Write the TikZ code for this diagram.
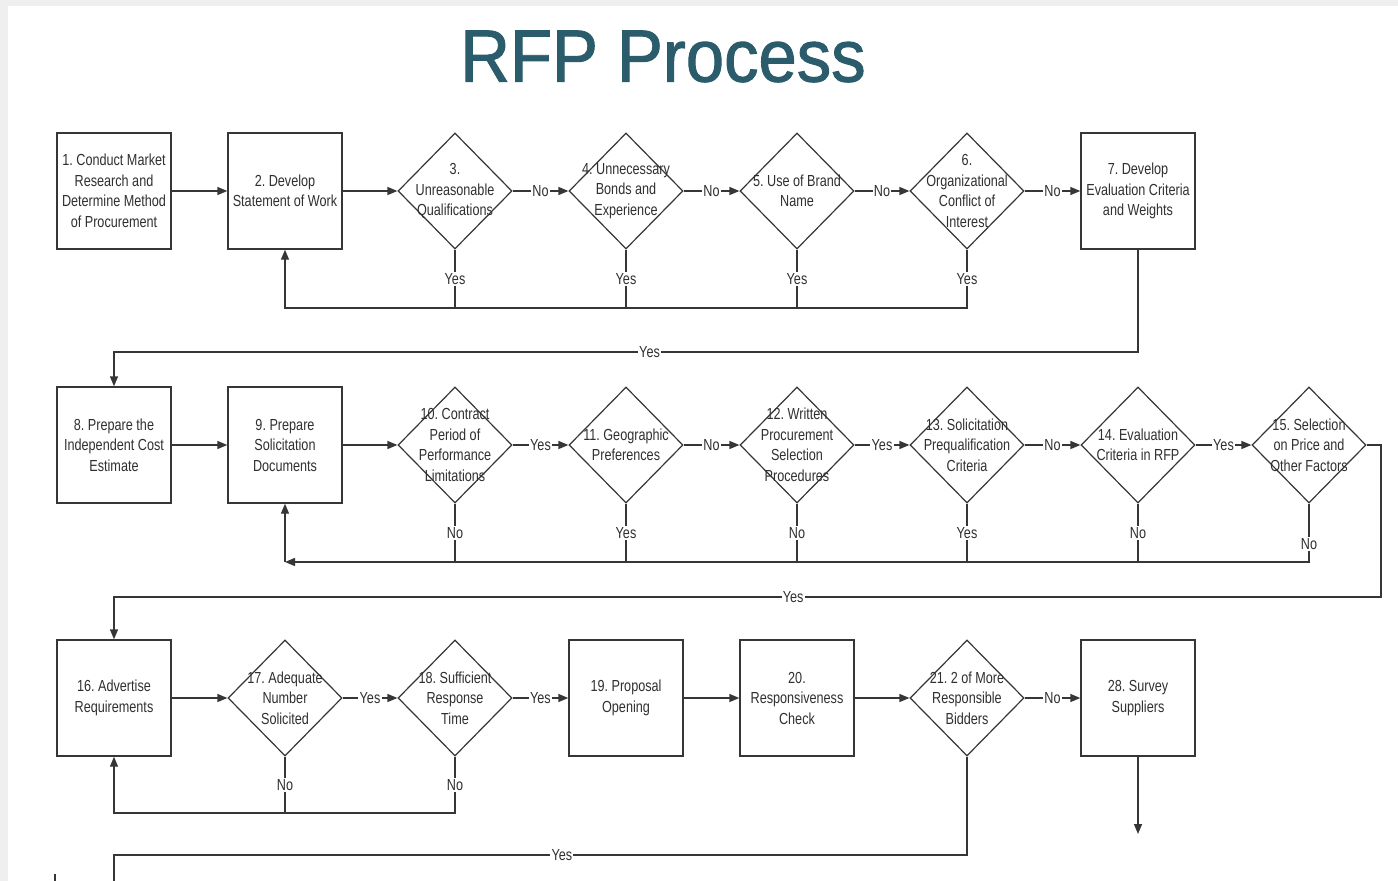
\documentclass[tikz,border=0pt]{standalone}
\usepackage{fontspec}
\setmainfont{Liberation Sans}
\newfontfamily\narrowsans[FakeStretch=0.79]{Liberation Sans}
\newfontfamily\titlesans[FakeStretch=0.93,FakeBold=1.3]{Liberation Sans}
\usetikzlibrary{shapes.geometric,arrows.meta}
\definecolor{pagegray}{HTML}{EFEFEF}
\definecolor{linecol}{HTML}{363636}
\definecolor{txtcol}{HTML}{303030}
\definecolor{titlecol}{HTML}{2A5C6C}
\frenchspacing
\tikzset{
  boxfont/.style={font=\narrowsans\fontsize{16}{20.5}\selectfont},
  stepbox/.style={draw=linecol, line width=1.4pt, rectangle, minimum width=114pt,
    minimum height=116pt, inner sep=0pt, align=center,
    text=txtcol, boxfont},
  choice/.style={draw=linecol, line width=1.2pt, diamond, minimum width=114pt,
    minimum height=116pt, inner sep=0pt},
  dtext/.style={align=center, text=txtcol, boxfont, inner sep=0pt},
  wire/.style={draw=linecol, line width=1.4pt},
  flow/.style={wire, -{Triangle[length=10pt,width=8pt]}},
  lbl/.style={fill=white, inner sep=1.2pt, text=txtcol,
    font=\narrowsans\fontsize{16}{16}\selectfont},
}
\begin{document}
\begin{tikzpicture}[x=1pt,y=-1pt]
% page background with light frame at the top and left
\fill[pagegray] (0,0) rectangle (1398,881);
\fill[white] (8,6) rectangle (1398,881);
\useasboundingbox (0,0) rectangle (1398,881);

\node[text=titlecol, font=\titlesans\fontsize{74}{80}\selectfont] (title) at (663,56.5) {RFP Process};

% ---- row 1 ----
\node[stepbox] (s1) at (114,191) {1. Conduct Market\\Research and\\Determine Method\\of Procurement};
\node[stepbox] (s2) at (285,191) {2. Develop\\Statement of Work};
\node[choice, label={[dtext]center:{3.\\Unreasonable\\Qualifications}}] (s3) at (455,191) {};
\node[choice, label={[dtext]center:{4. Unnecessary\\Bonds and\\Experience}}] (s4) at (626,191) {};
\node[choice, label={[dtext]center:{5. Use of Brand\\Name}}] (s5) at (797,191) {};
\node[choice, label={[dtext]center:{6.\\Organizational\\Conflict of\\Interest}}] (s6) at (967,191) {};
\node[stepbox] (s7) at (1138,191) {7. Develop\\Evaluation Criteria\\and Weights};

% ---- row 2 ----
\node[stepbox] (s8) at (114,445) {8. Prepare the\\Independent Cost\\Estimate};
\node[stepbox] (s9) at (285,445) {9. Prepare\\Solicitation\\Documents};
\node[choice, label={[dtext]center:{10. Contract\\Period of\\Performance\\Limitations}}] (s10) at (455,445) {};
\node[choice, label={[dtext]center:{11. Geographic\\Preferences}}] (s11) at (626,445) {};
\node[choice, label={[dtext]center:{12. Written\\Procurement\\Selection\\Procedures}}] (s12) at (797,445) {};
\node[choice, label={[dtext]center:{13. Solicitation\\Prequalification\\Criteria}}] (s13) at (967,445) {};
\node[choice, label={[dtext]center:{14. Evaluation\\Criteria in RFP}}] (s14) at (1138,445) {};
\node[choice, label={[dtext]center:{15. Selection\\on Price and\\Other Factors}}] (s15) at (1309,445) {};

% ---- row 3 ----
\node[stepbox] (s16) at (114,698) {16. Advertise\\Requirements};
\node[choice, label={[dtext]center:{17. Adequate\\Number\\Solicited}}] (s17) at (285,698) {};
\node[choice, label={[dtext]center:{18. Sufficient\\Response\\Time}}] (s18) at (455,698) {};
\node[stepbox] (s19) at (626,698) {19. Proposal\\Opening};
\node[stepbox] (s20) at (797,698) {20.\\Responsiveness\\Check};
\node[choice, label={[dtext]center:{21. 2 of More\\Responsible\\Bidders}}] (s21) at (967,698) {};
\node[stepbox] (s28) at (1138,698) {28. Survey\\Suppliers};

% junction points of the return and carry-over lines
\coordinate (j3) at (455,308);
\coordinate (j4) at (626,308);
\coordinate (j5) at (797,308);
\coordinate (j6) at (967,308);
\coordinate (j2) at (285,308);
\coordinate (t1) at (1138,352);
\coordinate (t2) at (114,352);
\coordinate (k9) at (285,562);
\coordinate (k10) at (455,562);
\coordinate (k11) at (626,562);
\coordinate (k12) at (797,562);
\coordinate (k13) at (967,562);
\coordinate (k14) at (1138,562);
\coordinate (k15) at (1309,562);
\coordinate (u1) at (1381,445);
\coordinate (u2) at (1381,597);
\coordinate (u3) at (114,597);
\coordinate (m16) at (114,813);
\coordinate (m17) at (285,813);
\coordinate (m18) at (455,813);
\coordinate (e28) at (1138,834);
\coordinate (v1) at (967,855);
\coordinate (v2) at (114,855);
\coordinate (v3) at (114,881);

% ---- row 1 connectors ----
\draw[flow] (s1) -- (s2);
\draw[flow] (s2) -- (s3);
\draw[flow] (s3) -- node[lbl]{No} (s4);
\draw[flow] (s4) -- node[lbl]{No} (s5);
\draw[flow] (s5) -- node[lbl]{No} (s6);
\draw[flow] (s6) -- node[lbl]{No} (s7);
\draw[wire] (s3.south) -- node[lbl]{Yes} (j3);
\draw[wire] (s4.south) -- node[lbl]{Yes} (j4);
\draw[wire] (s5.south) -- node[lbl]{Yes} (j5);
\draw[flow] (s6.south) -- node[lbl]{Yes} (j6) -- (j2) -- (s2.south);
\draw[flow] (s7.south) -- (t1) -- node[lbl,pos=0.477]{Yes} (t2) -- (s8.north);

% ---- row 2 connectors ----
\draw[flow] (s8) -- (s9);
\draw[flow] (s9) -- (s10);
\draw[flow] (s10) -- node[lbl]{Yes} (s11);
\draw[flow] (s11) -- node[lbl]{No} (s12);
\draw[flow] (s12) -- node[lbl]{Yes} (s13);
\draw[flow] (s13) -- node[lbl]{No} (s14);
\draw[flow] (s14) -- node[lbl]{Yes} (s15);
\draw[wire] (s10.south) -- node[lbl]{No} (k10);
\draw[wire] (s11.south) -- node[lbl]{Yes} (k11);
\draw[wire] (s12.south) -- node[lbl]{No} (k12);
\draw[wire] (s13.south) -- node[lbl]{Yes} (k13);
\draw[wire] (s14.south) -- node[lbl]{No} (k14);
\draw[flow] (s15.south) -- node[lbl,pos=0.69]{No} (k15) -- (k9);
\draw[flow] (k9) -- (s9.south);
\draw[flow] (s15.east) -- (u1) -- (u2) -- node[lbl,pos=0.464]{Yes} (u3) -- (s16.north);

% ---- row 3 connectors ----
\draw[flow] (s16) -- (s17);
\draw[flow] (s17) -- node[lbl]{Yes} (s18);
\draw[flow] (s18) -- node[lbl]{Yes} (s19);
\draw[flow] (s19) -- (s20);
\draw[flow] (s20) -- (s21);
\draw[flow] (s21) -- node[lbl]{No} (s28);
\draw[wire] (s17.south) -- node[lbl]{No} (m17);
\draw[flow] (s18.south) -- node[lbl]{No} (m18) -- (m16) -- (s16.south);
\draw[flow] (s28.south) -- (e28);
\draw[wire] (s21.south) -- (v1) -- node[lbl,pos=0.475]{Yes} (v2) -- (v3);

% stub of a further step below the page edge
\coordinate (w1) at (55,874);
\coordinate (w2) at (55,881);
\draw[wire] (w1) -- (w2);
\end{tikzpicture}
\end{document}
